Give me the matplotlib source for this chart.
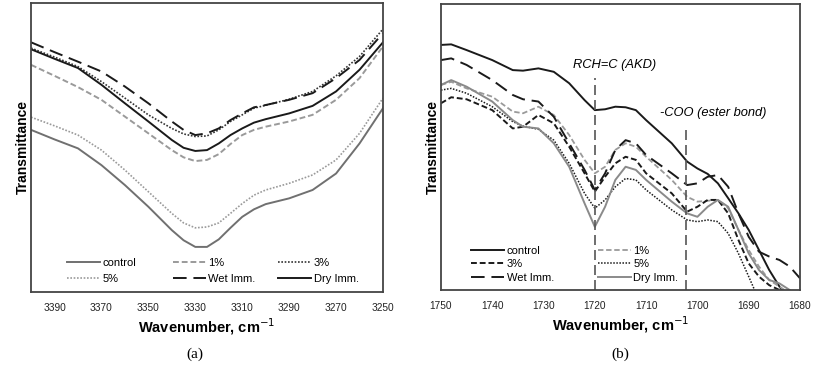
import numpy as np
import matplotlib
matplotlib.use("Agg")
import matplotlib.pyplot as plt

plt.rcParams['font.family'] = ['Liberation Sans', 'DejaVu Sans']

# ---- panel (a): 3400-3250 cm-1 ----
wn_a = [3400, 3390, 3380, 3370, 3360, 3350, 3340, 3335, 3330, 3325, 3320,
        3315, 3310, 3305, 3300, 3290, 3280, 3270, 3260, 3250]
a_control = [56.1, 52.8, 49.7, 43.9, 37.0, 29.5, 21.4, 17.9, 15.6, 15.6, 18.2,
             22.2, 26.0, 28.6, 30.4, 32.4, 35.3, 41.0, 51.4, 63.6]
a_1 = [78.6, 74.8, 70.9, 66.5, 60.7, 54.9, 49.1, 46.6, 45.3, 45.7, 47.7,
       51.2, 54.3, 56.1, 57.2, 59.0, 61.3, 66.5, 74.0, 85.0]
a_3 = [84.4, 81.3, 78.0, 72.8, 67.1, 61.3, 56.6, 54.7, 53.8, 54.0, 56.1,
       59.0, 61.3, 63.6, 64.6, 66.7, 69.4, 74.8, 81.5, 91.0]
a_5 = [60.5, 57.5, 54.3, 49.1, 42.2, 34.7, 27.2, 23.9, 22.2, 22.5, 23.9,
       27.2, 30.6, 33.5, 35.3, 37.6, 40.5, 45.7, 54.9, 67.1]
a_wet = [86.4, 83.0, 79.7, 76.3, 71.1, 65.3, 59.0, 56.1, 54.3, 54.9, 56.6,
         59.5, 61.8, 63.9, 64.7, 66.5, 68.8, 74.0, 80.3, 89.6]
a_dry = [84.0, 80.7, 77.5, 71.7, 65.3, 59.0, 52.6, 49.9, 48.8, 49.1, 51.4,
         54.3, 56.6, 58.6, 59.8, 61.8, 64.4, 69.4, 76.9, 86.4]
ticks_a = [3390, 3370, 3350, 3330, 3310, 3290, 3270, 3250]

# ---- panel (b): 1750-1680 cm-1 ----
wn_b = [1750, 1748, 1745, 1740, 1736, 1734, 1731, 1728, 1725, 1722,
        1720, 1718, 1716, 1714, 1712, 1710, 1705, 1702, 1700, 1698,
        1696, 1694, 1692, 1690, 1688, 1686, 1684, 1682, 1680]
b_control = [85.7, 85.9, 83.9, 80.4, 76.9, 76.7, 77.5, 76.3, 72.3, 66.4,
             62.9, 63.2, 64.1, 63.9, 62.9, 59.4, 51.3, 44.9, 42.5, 40.6,
             37.3, 32.1, 26.8, 21.0, 14.0, 7.0, 1.2, -3.5, -7.0]
b_1 = [71.7, 72.8, 70.5, 67.6, 62.4, 61.8, 64.1, 61.2, 54.2, 45.5,
       40.8, 43.1, 49.0, 51.3, 50.1, 46.6, 38.5, 32.6, 30.9, 31.2,
       31.5, 28.6, 21.0, 14.0, 8.2, 3.5, 1.2, -1.2, -3.5]
b_3 = [65.3, 67.4, 66.7, 62.9, 56.5, 57.1, 61.2, 58.3, 50.1, 40.8,
       34.4, 39.6, 44.3, 46.6, 45.5, 40.8, 33.8, 27.4, 29.1, 31.5,
       31.5, 26.8, 17.5, 9.3, 4.7, 1.7, 0.0, -2.3, -4.7]
b_5 = [69.9, 70.5, 68.8, 64.1, 58.9, 57.3, 56.2, 52.4, 44.3, 33.8,
       28.6, 31.5, 36.1, 39.0, 38.5, 35.0, 28.0, 24.5, 23.9, 24.5,
       23.9, 19.8, 12.8, 4.7, -3.5, -9.3, -15.2, -21.0, -27.0]
b_wet = [80.4, 81.0, 78.7, 73.4, 68.2, 66.7, 65.9, 60.6, 51.3, 42.0,
         35.0, 40.8, 49.0, 52.4, 51.3, 47.2, 40.8, 36.7, 37.3, 39.6,
         40.2, 36.1, 26.8, 18.6, 13.4, 11.7, 10.5, 8.2, 4.1]
b_dry = [71.7, 73.4, 71.1, 65.9, 59.4, 57.1, 56.5, 51.3, 43.1, 30.3,
         22.1, 29.1, 38.5, 43.1, 42.0, 38.5, 30.9, 26.8, 25.6, 29.1,
         31.5, 29.1, 21.0, 12.8, 7.0, 3.5, 2.3, 0.0, -3.5]
ticks_b = [1750, 1740, 1730, 1720, 1710, 1700, 1690, 1680]
marker_pos = [1720, 1702.3]
marker_top = [74.0, 56.5]
marker_text = ['RCH=C (AKD)', '-COO (ester bond)']

fig = plt.figure(figsize=(8.21, 3.67), dpi=100)
ax1 = fig.add_axes([0.0378, 0.2044, 0.4287, 0.7874])
ax2 = fig.add_axes([0.5371, 0.2098, 0.4373, 0.7792])

dark = '#1a1a1a'
lg = '#9a9a9a'
mg = '#707070'


def column_legends(ax, groups, xs, y, spacing):
    for i, (hs, x) in enumerate(zip(groups, xs)):
        leg = ax.legend(handles=hs, frameon=False, fontsize=8, handlelength=3.0,
                        handletextpad=0.2, labelspacing=spacing, borderpad=0,
                        borderaxespad=0, loc='lower left', bbox_to_anchor=(x, y))
        if i < len(groups) - 1:
            ax.add_artist(leg)


l_ctrl, = ax1.plot(wn_a, a_control, color=mg, lw=1.4, ls='-', label='control')
l_1, = ax1.plot(wn_a, a_1, color=lg, lw=1.4, ls=(0, (3, 1.5)), label='1%')
l_3, = ax1.plot(wn_a, a_3, color='#333333', lw=1.2, ls=(0, (1, 1)), label='3%')
l_5, = ax1.plot(wn_a, a_5, color=lg, lw=1.2, ls=(0, (1, 1)), label='5%')
l_wet, = ax1.plot(wn_a, a_wet, color=dark, lw=1.4, ls=(0, (7, 3.5)), label='Wet Imm.')
l_dry, = ax1.plot(wn_a, a_dry, color=dark, lw=1.4, ls='-', label='Dry Imm.')

ax1.set_xlim(3400, 3250)
ax1.set_ylim(0, 100)
ax1.set_xticks(ticks_a)
column_legends(ax1, [[l_ctrl, l_5], [l_1, l_wet], [l_3, l_dry]],
               [0.102, 0.403, 0.702], 0.028, 0.5)

m_ctrl, = ax2.plot(wn_b, b_control, color=dark, lw=1.4, ls='-', label='control')
m_1, = ax2.plot(wn_b, b_1, color=lg, lw=1.3, ls=(0, (3, 1.5)), label='1%')
m_3, = ax2.plot(wn_b, b_3, color=dark, lw=1.4, ls=(0, (3, 1.5)), label='3%')
m_5, = ax2.plot(wn_b, b_5, color=dark, lw=1.1, ls=(0, (1, 1)), label='5%')
m_wet, = ax2.plot(wn_b, b_wet, color=dark, lw=1.4, ls=(0, (7, 3.5)), label='Wet Imm.')
m_dry, = ax2.plot(wn_b, b_dry, color='#8a8a8a', lw=1.4, ls='-', label='Dry Imm.')

for x, top in zip(marker_pos, marker_top):
    ax2.plot([x, x], [0, top], color='#555555', lw=1.2, ls=(0, (6, 3)))
ax2.text(1716.1, 78.7, marker_text[0], fontsize=9.3,
         style='italic', ha='center', va='center')
ax2.text(1697.0, 61.9, marker_text[1], fontsize=9.3,
         style='italic', ha='center', va='center')

ax2.set_xlim(1750, 1680)
ax2.set_ylim(0, 100)
ax2.set_xticks(ticks_b)
column_legends(ax2, [[m_ctrl, m_3, m_wet], [m_1, m_5, m_dry]],
               [0.084, 0.437], 0.025, 0.33)

for ax in (ax1, ax2):
    ax.set_yticks([])
    ax.tick_params(axis='x', length=0, pad=8, labelsize=7.3, colors='#222222')
    for s in ax.spines.values():
        s.set_color('#444444')
        s.set_linewidth(1.3)
    ax.set_xlabel('Wavenumber, cm$^{-1}$', fontsize=10.5, fontweight='bold', labelpad=2)
    ax.set_ylabel('Transmittance', fontsize=10, fontweight='bold', labelpad=1)

fig.text(0.2375, 0.025, '(a)', fontsize=11, family='Liberation Serif', ha='center')
fig.text(0.755, 0.025, '(b)', fontsize=11, family='Liberation Serif', ha='center')

fig.savefig('out.png', dpi=100)
